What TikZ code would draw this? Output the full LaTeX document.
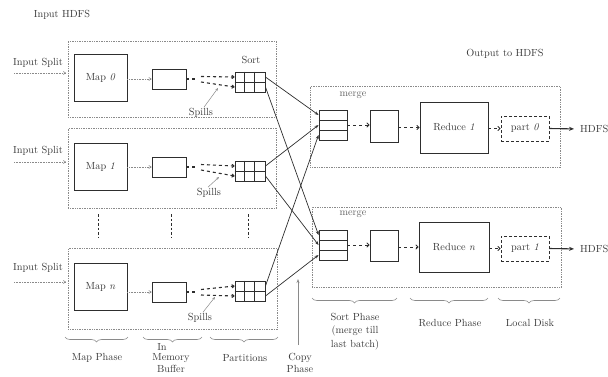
\documentclass[tikz,border=0pt]{standalone}
\usetikzlibrary{arrows.meta,decorations.pathreplacing,calc}
\begin{document}
\definecolor{txt}{HTML}{3A3A3A}
\definecolor{ln}{HTML}{2E2E2E}
\definecolor{dot}{HTML}{8A8A8A}
\begin{tikzpicture}[x=1pt,y=-1pt,
  font=\fontsize{10.3}{12}\selectfont,
  cont/.style={draw=dot, densely dotted, line width=0.7pt, inner sep=0pt, anchor=north west},
  bx/.style={draw=ln, line width=0.9pt, fill=white, inner sep=0pt, text=txt},
  lbl/.style={text=txt, inner sep=0pt},
  inarrow/.style={draw=dot, densely dotted, line width=0.6pt, -{To[length=3pt,width=3.5pt]}},
  spilldash/.style={draw=ln, line width=1.1pt, dash pattern=on 3pt off 3pt},
  spillarr/.style={draw=ln, line width=1.1pt, dash pattern=on 3pt off 3pt, -{To[length=3pt,width=4pt]}},
  sparrow/.style={draw=dot, line width=0.5pt, -{Stealth[length=3pt,width=2.5pt]}},
  cross/.style={draw=ln, line width=0.7pt, -{Stealth[length=4pt,width=3pt]}},
  rdash/.style={draw=ln, line width=0.9pt, dash pattern=on 3pt off 3pt, -{To[length=3pt,width=5pt]}},
  outarr/.style={draw=ln, line width=1.1pt, shorten >=6pt, -{Stealth[length=5pt,width=4pt]}},
  brc/.style={draw=dot, line width=0.6pt, decorate, decoration={brace,mirror,amplitude=5pt}},
  sepl/.style={draw=ln, line width=0.8pt, dash pattern=on 2.5pt off 2pt},
  copyarr/.style={draw=dot, line width=0.6pt, -{Stealth[length=4pt,width=3pt]}}]
\useasboundingbox (0,0) rectangle (608,376);

% titles
\node[lbl] (inhdfs) at (62,15) {Input HDFS};
\node[lbl] (outhdfs) at (505,54) {Output to HDFS};

% map-side containers
\node[cont, minimum width=208pt, minimum height=76pt] (c1) at (68,41) {};
\node[cont, minimum width=208pt, minimum height=80pt] (c2) at (68,128) {};
\node[cont, minimum width=209pt, minimum height=81pt] (c3) at (68,248) {};

% reduce-side containers
\node[cont, minimum width=250pt, minimum height=81pt] (r1) at (310,86) {};
\node[cont, minimum width=249pt, minimum height=80pt] (r2) at (312,207) {};

% input splits
\node[lbl] (is0) at (38,63) {Input Split};
\node[lbl] (is1) at (38,151) {Input Split};
\node[lbl] (is2) at (38,268) {Input Split};
\coordinate (ia0) at (14,73);  \coordinate (ib0) at (66,73);
\coordinate (ia1) at (14,162); \coordinate (ib1) at (66,162);
\coordinate (ia2) at (14,282); \coordinate (ib2) at (66,282);
\draw[inarrow] (ia0) -- (ib0);
\draw[inarrow] (ia1) -- (ib1);
\draw[inarrow] (ia2) -- (ib2);

% maps
\node[bx, minimum width=53pt, minimum height=47pt] (map0) at (100.5,77.5) {Map \textit{0}};
\node[bx, minimum width=53pt, minimum height=47pt] (map1) at (100.5,166.5) {Map \textit{1}};
\node[bx, minimum width=53pt, minimum height=47pt] (mapn) at (100.5,286.5) {Map \textit{n}};

% buffers
\node[bx, minimum width=34pt, minimum height=20pt] (buf0) at (169,79) {};
\node[bx, minimum width=34pt, minimum height=20pt] (buf1) at (169,167) {};
\node[bx, minimum width=34pt, minimum height=20pt] (bufn) at (169,292) {};

\draw[inarrow] (map0.east |- buf0.west) -- (buf0.west);
\draw[inarrow] (map1.east |- buf1.west) -- (buf1.west);
\draw[inarrow] (mapn.east |- bufn.west) -- (bufn.west);

% partitions
\foreach \n/\y in {0/77,1/166,n/286}{
  \node[bx, minimum width=30pt, minimum height=10pt] (p\n a) at (250,\y) {};
  \node[bx, minimum width=30pt, minimum height=10pt] (p\n b) at (250,\y+10) {};
  \draw[draw=ln, line width=0.5pt] ($(p\n a.north west)+(10,0)$) -- ($(p\n b.south west)+(10,0)$);
  \draw[draw=ln, line width=0.5pt] ($(p\n a.north west)+(20,0)$) -- ($(p\n b.south west)+(20,0)$);
  \draw[draw=ln, line width=1.8pt] (p\n a.south west) -- (p\n a.south east);
}
\node[lbl] (sort) at (251,60) {Sort};

% spills from buffers to partitions
\foreach \n/\y in {0/79,1/167,n/292}{
  \coordinate (sd\n) at (195,\y);
  \coordinate (su\n) at (201,\y-2.5);
  \coordinate (sl\n) at (201,\y+3);
  \draw[spilldash] (buf\n.east) -- (sd\n);
  \draw[spillarr] (su\n) -- (p\n a.west);
  \draw[spillarr] (sl\n) -- (p\n b.west);
}
\node[lbl] (sp0) at (201,113) {Spills};
\node[lbl] (sp1) at (209,193) {Spills};
\node[lbl] (spn) at (200,318) {Spills};
\coordinate (st0) at (218,88);
\coordinate (st1) at (219,177);
\coordinate (stn) at (215,297);
\draw[sparrow] ([xshift=3pt,yshift=1pt]sp0.north) -- (st0);
\draw[sparrow] ([xshift=-1pt,yshift=1pt]sp1.north) -- (st1);
\draw[sparrow] ([xshift=3pt,yshift=1pt]spn.north) -- (stn);

% vertical separators between map rows
\coordinate (va1) at (98,214);  \coordinate (vb1) at (98,238);
\coordinate (va2) at (171,214); \coordinate (vb2) at (171,238);
\coordinate (va3) at (248,214); \coordinate (vb3) at (248,238);
\draw[sepl] (va1) -- (vb1);
\draw[sepl] (va2) -- (vb2);
\draw[sepl] (va3) -- (vb3);

% merge boxes
\foreach \n/\y in {1/115,2/235}{
  \node[bx, minimum width=28pt, minimum height=10pt] (m\n a) at (333,\y) {};
  \node[bx, minimum width=28pt, minimum height=10pt] (m\n b) at (333,\y+10) {};
  \node[bx, minimum width=28pt, minimum height=10pt] (m\n c) at (333,\y+20) {};
  \draw[draw=ln, line width=1.6pt] (m\n a.south west) -- (m\n a.south east);
}
\node[lbl, text=txt!80] (mg1) at (353,95) {merge};
\node[lbl, text=txt!80] (mg2) at (353,214) {merge};

% copy phase crossing arrows
\draw[cross] (p0a.east) -- (m1a.west);
\draw[cross] (p1a.east) -- (m1b.west);
\draw[cross] (pna.east) -- (m1c.west);
\draw[cross] (p0b.east) -- (m2a.west);
\draw[cross] (p1b.east) -- (m2b.west);
\draw[cross] (pnb.east) -- (m2c.west);

% reduce side
\node[bx, minimum width=28pt, minimum height=32pt] (s1) at (384,126) {};
\node[bx, minimum width=28pt, minimum height=31pt] (s2) at (384,245.5) {};
\node[bx, minimum width=68pt, minimum height=51pt] (red1) at (454,127.5) {Reduce \textit{1}};
\node[bx, minimum width=70pt, minimum height=50pt] (redn) at (454,247) {Reduce \textit{n}};
\node[bx, dash pattern=on 3pt off 2pt, minimum width=48pt, minimum height=25pt] (pt0) at (525,128.5) {part \textit{0}};
\node[bx, dash pattern=on 3pt off 2pt, minimum width=48pt, minimum height=25pt] (pt1) at (525,248.5) {part \textit{1}};
\node[lbl, anchor=west] (h0) at (580,129) {HDFS};
\node[lbl, anchor=west] (h1) at (580,249) {HDFS};

\draw[rdash] (m1b.east) -- (m1b.east -| s1.west);
\draw[rdash] (m2b.east) -- (m2b.east -| s2.west);
\draw[rdash] (s1.east |- red1.west) -- (red1.west);
\draw[rdash] (s2.east |- redn.west) -- (redn.west);
\draw[rdash] (red1.east |- pt0.west) -- (pt0.west);
\draw[rdash] (redn.east |- pt1.west) -- (pt1.west);
\draw[outarr] (pt0.east) -- (h0.west);
\draw[outarr] (pt1.east) -- (h1.west);

% copy phase marker
\coordinate (cp0) at (298,345);
\coordinate (cp1) at (298,279);
\draw[copyarr] (cp0) -- (cp1);
\node[lbl, align=center, font=\fontsize{10.3}{12}\selectfont] (copyl) at (300,363) {Copy\\Phase};

% braces bottom-left
\draw[brc] (65,337) -- (128,337);
\draw[brc] (143,337) -- (202,337);
\draw[brc] (210,337) -- (278,337);
\node[lbl] (lmap) at (97,358) {Map Phase};
\node[lbl] (lin) at (162,347) {In};
\node[lbl] (lmem) at (171,358) {Memory};
\node[lbl] (lbuf) at (171,369) {Buffer};
\node[lbl] (lpart) at (245,358) {Partitions};

% braces bottom-right
\draw[brc] (312,298) -- (397,298);
\draw[brc] (410,298) -- (488,298);
\draw[brc] (498,298) -- (560,298);
\node[lbl, align=center, font=\fontsize{10.3}{13.5}\selectfont] (lsort) at (355,331.5) {Sort Phase\\(merge till\\last batch)};
\node[lbl] (lred) at (450,323) {Reduce Phase};
\node[lbl] (ldisk) at (530,323) {Local Disk};
\end{tikzpicture}
\end{document}
